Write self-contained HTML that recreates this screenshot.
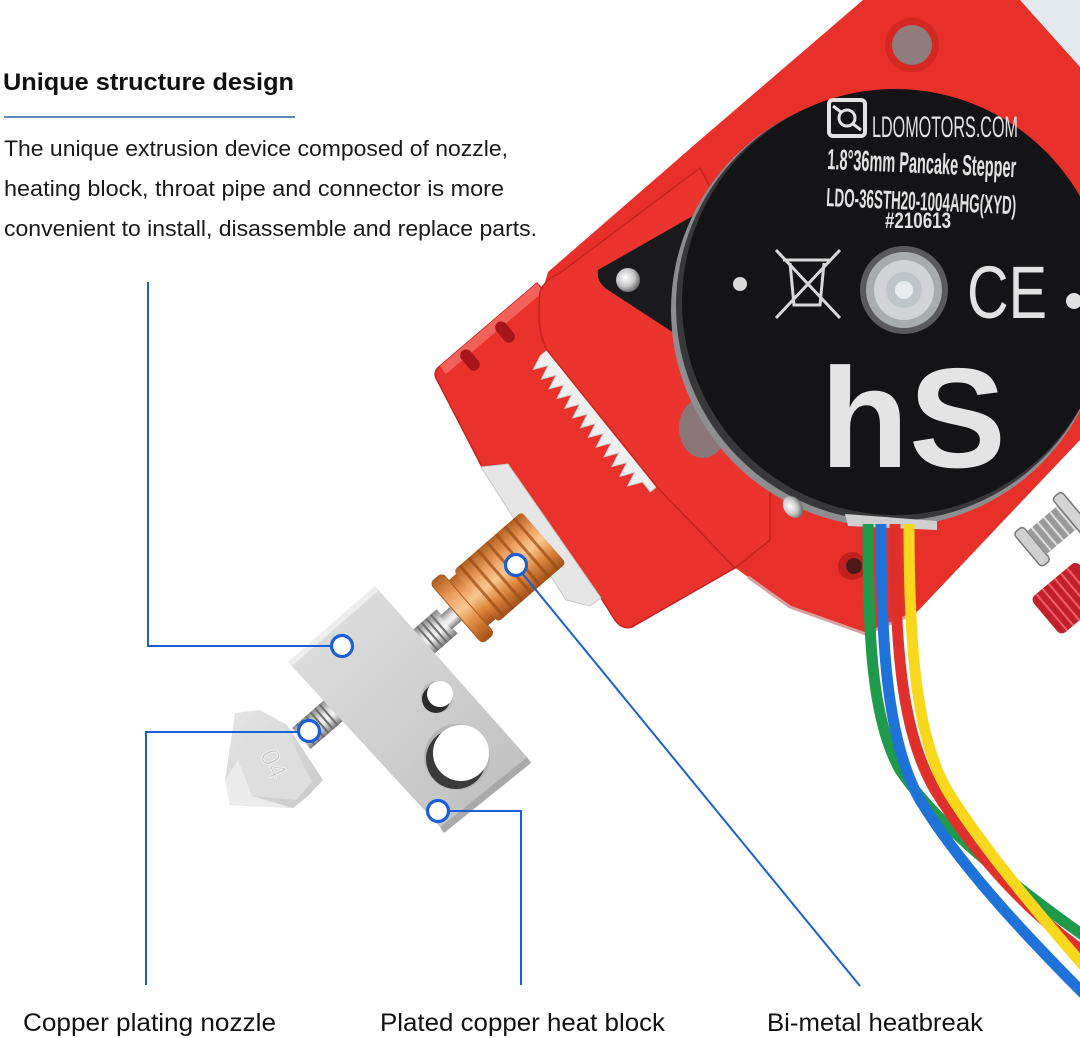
<!DOCTYPE html>
<html><head><meta charset="utf-8">
<style>
html,body{margin:0;padding:0;background:#fff;}
svg{display:block;}
</style></head><body>
<svg width="1080" height="1038" viewBox="0 0 1080 1038" xmlns="http://www.w3.org/2000/svg">
<defs>
<linearGradient id="cu" x1="0" y1="0" x2="0" y2="1">
<stop offset="0" stop-color="#b0601e"/><stop offset="0.3" stop-color="#eea060"/><stop offset="0.5" stop-color="#f8c890"/><stop offset="0.72" stop-color="#e08a40"/><stop offset="1" stop-color="#a05018"/>
</linearGradient>
<linearGradient id="st" x1="0" y1="0" x2="0" y2="1">
<stop offset="0" stop-color="#8a8a8a"/><stop offset="0.4" stop-color="#e6e6e6"/><stop offset="0.6" stop-color="#f4f4f4"/><stop offset="1" stop-color="#7a7a7a"/>
</linearGradient>
<linearGradient id="blk" x1="0" y1="0" x2="1" y2="1">
<stop offset="0" stop-color="#e2e2e2"/><stop offset="0.5" stop-color="#d0d0d0"/><stop offset="1" stop-color="#bcbcbc"/>
</linearGradient>
<linearGradient id="noz" x1="0" y1="0" x2="1" y2="1">
<stop offset="0" stop-color="#e6e6e6"/><stop offset="1" stop-color="#c8c8c8"/>
</linearGradient>
<radialGradient id="scr" cx="0.4" cy="0.4" r="0.6">
<stop offset="0" stop-color="#ffffff"/><stop offset="0.6" stop-color="#c8c8c8"/><stop offset="1" stop-color="#707070"/>
</radialGradient>
</defs>

<rect x="0" y="0" width="1080" height="1038" fill="#fff"/>

<!-- Header text -->
<text x="3" y="90" font-family="'Liberation Sans', Arial, sans-serif" font-weight="bold" font-size="24" fill="#111" textLength="291" lengthAdjust="spacingAndGlyphs">Unique structure design</text>
<line x1="4" y1="117" x2="295" y2="117" stroke="#2d63a6" stroke-width="1.6"/>
<g font-family="'Liberation Sans', Arial, sans-serif" font-size="22.5" fill="#1a1a1a">
<text x="4" y="156" textLength="504" lengthAdjust="spacingAndGlyphs">The unique extrusion device composed of nozzle,</text>
<text x="4" y="196" textLength="500" lengthAdjust="spacingAndGlyphs">heating block, throat pipe and connector is more</text>
<text x="4" y="236" textLength="533" lengthAdjust="spacingAndGlyphs">convenient to install, disassemble and replace parts.</text>
</g>

<!-- Back plate -->
<polygon points="1020,0 1080,0 1080,67" fill="#e2e8ec"/>
<path d="M863,0 L1020,0 L1080,67 L1080,440 L917,612 L866,634 L790,607 L748,577 L733,566 L600,420 L540,300 L548,272 L700,140 Z" fill="#e8302a"/>
<path d="M748,577 L790,607 L866,634 L917,612" fill="none" stroke="#d9a0a0" stroke-width="3"/>
<circle cx="912" cy="45" r="27" fill="#d62822"/>
<circle cx="912" cy="45" r="20" fill="#8f7c7e"/>

<!-- Front block -->
<path d="M440,366 L537,283 L552,300 L665,495 L735,568 L632,627 Q622,630 615,620 L601,598 L508,464 L482,467 L437,380 Q432,372 440,366 Z" fill="#ea322c" stroke="#c6221f" stroke-width="1.5"/>
<path d="M440,366 L537,283 L543,292 L446,374 Z" fill="#f3625a"/>
<g fill="#a8161a">
<rect x="-6" y="-12" width="12" height="24" rx="6" transform="translate(470,360) rotate(-40)"/>
<rect x="-6" y="-12" width="12" height="24" rx="6" transform="translate(505,332) rotate(-40)"/>
</g>
<!-- silver piece -->
<polygon points="481,467 508,464 601,598 590,606 566,600" fill="#e6e6e6" stroke="#c8c8c8" stroke-width="1"/>

<!-- Gear -->
<polygon points="548.9,348.9 540.3,355.8 533.4,369.4 548.2,365.5 541.3,379.2 556.1,375.2 549.1,388.9 563.9,384.9 557.0,398.6 571.8,394.6 564.8,408.3 579.6,404.3 572.7,418.0 587.5,414.0 580.6,427.7 595.4,423.7 588.4,437.4 603.2,433.5 596.3,447.1 611.1,443.2 604.1,456.8 618.9,452.9 612.0,466.5 626.8,462.6 619.9,476.3 634.7,472.3 627.7,486.0 642.5,482.0 650.3,491.8 658.9,484.9" fill="#efefef" stroke="#d0d0d0" stroke-width="1"/>

<!-- Lever arm -->
<path d="M540,292 Q545,279 560,273 L700,168 L770,300 L770,540 L735,568 L657,487 L547,350 Q536,330 540,292 Z" fill="#eb342e" stroke="#c42420" stroke-width="1.5"/>
<ellipse cx="703" cy="428" rx="24" ry="30" fill="#8a7678"/>

<!-- Bracket -->
<path d="M598,270 Q596,282 608,290 L700,350 L712,205 Z" fill="#1a1a1c"/>
<circle cx="628" cy="280" r="12" fill="url(#scr)"/>

<!-- Motor disc -->
<circle cx="888" cy="310" r="217" fill="#8e8e90"/>
<circle cx="891" cy="306" r="215" fill="#38383a"/>
<circle cx="895" cy="302" r="213" fill="#141416"/>

<g fill="#e2e2e2" font-family="'Liberation Sans', Arial, sans-serif">
<rect x="829" y="100" width="36" height="36" rx="4" fill="none" stroke="#e2e2e2" stroke-width="4"/>
<circle cx="847" cy="118" r="8" fill="none" stroke="#e2e2e2" stroke-width="3"/>
<path d="M833,106 L841,112 M861,130 L853,124" stroke="#e2e2e2" stroke-width="3"/>
<text x="872" y="137" font-size="30" textLength="146" lengthAdjust="spacingAndGlyphs">LDOMOTORS.COM</text>
<text x="827" y="169" font-size="29" font-weight="bold" textLength="189" lengthAdjust="spacingAndGlyphs" transform="rotate(2.5 827 169)">1.8°36mm Pancake Stepper</text>
<text x="826" y="206" font-size="26" font-weight="bold" textLength="190" lengthAdjust="spacingAndGlyphs" transform="rotate(2.5 826 206)">LDO-36STH20-1004AHG(XYD)</text>
<text x="885" y="228" font-size="22" font-weight="bold" textLength="66" lengthAdjust="spacingAndGlyphs">#210613</text>
<g stroke="#d8d8d8" stroke-width="3" fill="none">
<path d="M783,260 L831,260 M790,263 L794,305 L820,305 L824,263"/>
<path d="M776,250 L840,318 M840,250 L776,318"/>
</g>
<circle cx="740" cy="284" r="7" fill="#d8d8d8"/>
<circle cx="1074" cy="301" r="8" fill="#e0e0e0"/>
<text x="967" y="318" font-size="74" textLength="80" lengthAdjust="spacingAndGlyphs">CE</text>
<text x="820" y="467" font-size="142" font-weight="bold" fill="#e4e4e4" textLength="186" lengthAdjust="spacingAndGlyphs">hS</text>
</g>
<circle cx="904" cy="290" r="44" fill="#5a5a5c"/>
<circle cx="904" cy="290" r="38" fill="#a9acae"/>
<circle cx="904" cy="290" r="30" fill="#d0d4d6"/>
<circle cx="904" cy="290" r="18" fill="#bfc6ca"/>
<circle cx="904" cy="290" r="9" fill="#e8ecee"/>

<!-- small screw near disc bottom-left -->
<ellipse cx="793" cy="507" rx="9" ry="12" fill="url(#scr)" transform="rotate(-40 793 507)"/>
<!-- hole near wires -->
<circle cx="852" cy="566" r="14" fill="#c2201c"/>
<circle cx="854" cy="566" r="8" fill="#4a1a1a"/>
<polygon points="845,514 937,521 937,530 848,526" fill="#cfcfcf"/>

<!-- Wires -->
<g fill="none" stroke-width="11">
<path d="M868,524 C868,640 872,720 900,770 C930,815 990,870 1090,940" stroke="#1f9a4a"/>
<path d="M881,524 C881,640 886,740 920,800 C960,865 1020,930 1090,1000" stroke="#1e72d8"/>
<path d="M895,524 C895,640 900,730 935,790 C975,855 1030,915 1090,956" stroke="#e0302c"/>
<path d="M909,524 C909,640 915,740 950,795 C985,850 1035,910 1090,973" stroke="#f8d81c"/>
</g>

<!-- Right screw and knob -->
<g transform="translate(1052,530) rotate(-40)">
<rect x="-32" y="-22" width="12" height="44" rx="4" fill="#d0d0d0" stroke="#777" stroke-width="1.5"/>
<rect x="-20" y="-15" width="42" height="30" fill="#9a9a9a"/>
<path d="M-14,-15 V15 M-6,-15 V15 M2,-15 V15 M10,-15 V15 M18,-15 V15" stroke="#e0e0e0" stroke-width="2"/>
<rect x="20" y="-24" width="12" height="48" rx="4" fill="#d4d4d4" stroke="#777" stroke-width="1.5"/>
</g>
<g transform="translate(1064,602) rotate(-40)">
<rect x="-24" y="-24" width="60" height="48" rx="6" fill="#c2202b"/>
<path d="M-16,-24 V24 M-8,-24 V24 M0,-24 V24 M8,-24 V24 M16,-24 V24 M24,-24 V24" stroke="#f0606a" stroke-width="2"/>
</g>

<!-- Heatbreak -->
<g transform="translate(420,645) rotate(-41)">
<rect x="0" y="-16" width="36" height="32" fill="url(#st)"/>
<path d="M4,-16 V16 M10,-16 V16 M16,-16 V16 M22,-16 V16 M28,-16 V16" stroke="#6e6e6e" stroke-width="2"/>
<rect x="34" y="-9" width="18" height="18" fill="url(#st)"/>
<rect x="63" y="-30" width="13" height="60" fill="url(#cu)"/>
<rect x="74" y="-34" width="90" height="68" rx="4" fill="url(#cu)"/>
<path d="M82,-34 V34 M94,-34 V34 M106,-34 V34 M118,-34 V34 M130,-34 V34 M142,-34 V34 M154,-34 V34" stroke="#9a4a14" stroke-width="3" opacity="0.7"/>
<rect x="48" y="-40" width="16" height="80" rx="5" fill="url(#cu)" stroke="#a85a20" stroke-width="1"/>
</g>

<!-- Nozzle threads -->
<g transform="translate(318,724) rotate(-41)">
<rect x="-22" y="-14" width="46" height="28" fill="url(#st)"/>
<path d="M-16,-14 V14 M-10,-14 V14 M-4,-14 V14 M2,-14 V14 M8,-14 V14 M14,-14 V14" stroke="#6e6e6e" stroke-width="2"/>
</g>

<!-- Heat block -->
<polygon points="375,586 288,662 440,827 527,757" fill="url(#blk)"/>
<polygon points="527,757 531,763 444,833 440,827" fill="#a9a9a9"/>
<polygon points="375,586 288,662 292,666 378,591" fill="#eeeeee"/>
<circle cx="437" cy="697" r="16" fill="#b8b8b8"/>
<circle cx="436" cy="699" r="14" fill="#2b2b2b"/>
<circle cx="440" cy="694" r="13" fill="#fff"/>
<circle cx="457" cy="757" r="33" fill="#b5b5b5"/>
<circle cx="456" cy="759" r="30" fill="#3a3a3a"/>
<circle cx="461" cy="753" r="28" fill="#fff"/>

<!-- Nozzle body -->
<polygon points="235,713 260,710 287,725 323,780 307,797 293,808 230,805 225,780" fill="url(#noz)"/>
<polygon points="245,735 285,728 312,782 296,800 252,796 238,760" fill="#dedede"/>
<polygon points="225,780 238,760 252,796 293,808 230,805" fill="#ececec"/>
<text x="256" y="770" font-family="'Liberation Sans', Arial, sans-serif" font-size="26" fill="#c6c6c6" stroke="#f4f4f4" stroke-width="0.8" transform="rotate(65 270 765)">04</text>

<!-- Callout lines -->
<g fill="none" stroke="#1a5fd6" stroke-width="2">
<path d="M148,282 V646 H332"/>
<path d="M146,985 V732 H299"/>
<path d="M521,985 V811 H448"/>
<path d="M522,573 L860,986"/>
</g>
<g fill="#fff" stroke="#1a5fd6" stroke-width="3.2">
<circle cx="342" cy="646" r="10.5"/>
<circle cx="309" cy="731" r="10.5"/>
<circle cx="438" cy="811" r="10.5"/>
<circle cx="516" cy="565" r="10.5"/>
</g>

<!-- Bottom labels -->
<g font-family="'Liberation Sans', Arial, sans-serif" font-size="25" fill="#111">
<text x="23" y="1031" textLength="253" lengthAdjust="spacingAndGlyphs">Copper plating nozzle</text>
<text x="380" y="1031" textLength="285" lengthAdjust="spacingAndGlyphs">Plated copper heat block</text>
<text x="767" y="1031" textLength="216" lengthAdjust="spacingAndGlyphs">Bi-metal heatbreak</text>
</g>
</svg>
</body></html>
